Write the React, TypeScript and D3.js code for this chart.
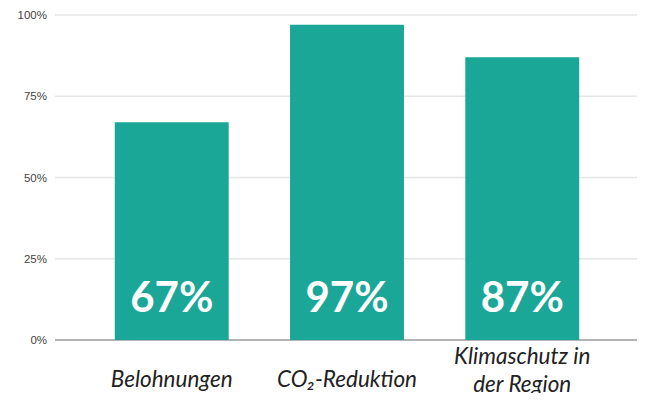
import { useRef, useEffect } from 'react';
import * as d3 from 'd3';

// Chart data
const categories = ["Belohnungen", "CO₂-Reduktion", "Klimaschutz in\nder Region"];
const values = [67, 97, 87];
const yTicks = [0, 25, 50, 75, 100];

export default function App() {
  const ref = useRef<SVGSVGElement>(null);

  useEffect(() => {
    if (!ref.current) return;
    const width = 645;
    const height = 401;

    const svg = d3.select(ref.current)
      .attr('width', width)
      .attr('height', height);

    svg.selectAll("*").remove();

    const x = d3.scaleBand()
      .domain(categories)
      .range([85, 609])
      .paddingInner(0.35)
      .paddingOuter(0.17);

    const y = d3.scaleLinear()
      .domain([0, 100])
      .range([340, 15]);

    // Gridlines
    svg.append("g")
      .selectAll("line")
      .data(yTicks)
      .join("line")
      .attr("x1", 55)
      .attr("x2", 639)
      .attr("y1", d => y(d))
      .attr("y2", d => y(d))
      .attr("stroke", d => d === 0 ? "#9a9a9a" : "#e6e6e6")
      .attr("stroke-width", d => d === 0 ? 1.5 : 1.3);

    // Tick labels
    svg.append("g")
      .selectAll("text")
      .data(yTicks)
      .join("text")
      .attr("x", 47)
      .attr("y", d => y(d) + 4)
      .attr("text-anchor", "end")
      .style("font-family", "'Liberation Sans', Arial, sans-serif")
      .style("font-size", "11.5px")
      .attr("fill", "#444")
      .text(d => `${d}%`);

    // Bars
    svg.append("g")
      .selectAll("rect")
      .data(values)
      .join("rect")
      .attr("x", (_, i) => x(categories[i])!)
      .attr("y", d => y(d))
      .attr("width", x.bandwidth())
      .attr("height", d => y(0) - y(d))
      .attr("fill", "#1ba797");

    // Value labels
    svg.append("g")
      .selectAll("text")
      .data(values)
      .join("text")
      .attr("x", (_, i) => x(categories[i])! + x.bandwidth() / 2)
      .attr("y", 312)
      .attr("text-anchor", "middle")
      .style("font-family", "Lato, sans-serif")
      .style("font-weight", "bold")
      .style("font-size", "42px")
      .attr("fill", "#fff")
      .text(d => `${d}%`);

    // Category labels
    const cat = svg.append("g")
      .selectAll("text")
      .data(categories)
      .join("text")
      .attr("x", d => x(d)! + x.bandwidth() / 2)
      .attr("text-anchor", "middle")
      .style("font-family", "Lato, sans-serif")
      .style("font-style", "italic")
      .style("font-size", "22.5px")
      .attr("fill", "#222");

    cat.each(function (d) {
      const lines = d.split("\n");
      const t = d3.select(this);
      const y0 = lines.length > 1 ? 364 : 387;
      lines.forEach((l, i) => {
        t.append("tspan")
          .attr("x", x(d)! + x.bandwidth() / 2)
          .attr("y", y0 + i * 28)
          .text(l);
      });
    });
  }, []);

  return (
    <div style={{ margin: -8 }}>
      <svg ref={ref} style={{ display: "block" }}></svg>
    </div>
  );
}
